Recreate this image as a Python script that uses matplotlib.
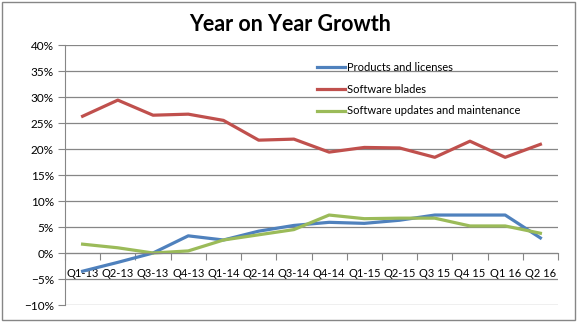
import numpy as np
import matplotlib.pyplot as plt
from matplotlib.ticker import FixedLocator, PercentFormatter

plt.rcParams['font.family'] = ['Lato', 'DejaVu Sans']

quarters = ['Q1-13', 'Q2-13', 'Q3-13', 'Q4-13', 'Q1-14', 'Q2-14', 'Q3-14',
            'Q4-14', 'Q1-15', 'Q2-15', 'Q3 15', 'Q4 15', 'Q1 16', 'Q2 16']
products = [-3.5, -1.8, 0.0, 3.3, 2.5, 4.2, 5.3, 5.9, 5.7, 6.3, 7.3, 7.3, 7.3, 2.9]
blades = [26.3, 29.4, 26.5, 26.7, 25.5, 21.7, 21.9, 19.4, 20.3, 20.2, 18.4, 21.5, 18.4, 20.9]
updates = [1.7, 1.0, 0.0, 0.4, 2.5, 3.5, 4.5, 7.3, 6.6, 6.7, 6.7, 5.2, 5.2, 3.8]

GRID = '#868686'

fig = plt.figure(figsize=(5.77, 3.24), dpi=100)
ax = fig.add_axes([65/577, 19/324, 493/577, 260/324])

x = np.arange(len(quarters))
ax.plot(x, products, color='#4F81BD', lw=2.3, label='Products and licenses')
ax.plot(x, blades, color='#C0504D', lw=2.3, label='Software blades')
ax.plot(x, updates, color='#9BBB59', lw=2.3, label='Software updates and maintenance')

ax.set_xlim(-0.5, len(quarters) - 0.5)
ax.set_ylim(-10, 40)
ax.set_yticks(np.arange(-10, 41, 5))
ax.yaxis.set_major_formatter(PercentFormatter(decimals=0))
ax.yaxis.grid(True, color=GRID, lw=0.9)
ax.set_axisbelow(True)

# category axis sits on the zero line, ticks between categories
ax.spines['bottom'].set_position(('data', 0))
ax.spines['bottom'].set_color(GRID)
ax.spines['left'].set_color(GRID)
ax.spines['top'].set_visible(False)
ax.spines['right'].set_visible(False)
ax.xaxis.set_major_locator(FixedLocator(np.arange(-0.5, len(quarters), 1)))
ax.xaxis.set_major_formatter(plt.NullFormatter())
ax.xaxis.set_minor_locator(FixedLocator(x))
ax.set_xticklabels(quarters, minor=True)
ax.tick_params(axis='x', which='major', length=5, color=GRID)
ax.tick_params(axis='x', which='minor', length=0, pad=10.5, labelsize=8)
ax.tick_params(axis='y', length=5, color=GRID, labelsize=8.5, pad=3)

ax.legend(loc='upper left', bbox_to_anchor=(0.49, 0.972), frameon=False,
          fontsize=8, handlelength=2.6, handletextpad=0.1, labelspacing=0.95)

fig.text(0.503, 0.925, 'Year on Year Growth', ha='center', va='center',
         fontsize=15.5, fontweight='bold')

fig.patches.append(plt.Rectangle((2/577, 4/324), 573/577, 318/324, transform=fig.transFigure,
                                 fill=False, edgecolor=GRID, lw=1))

fig.savefig('out.png', dpi=100)
